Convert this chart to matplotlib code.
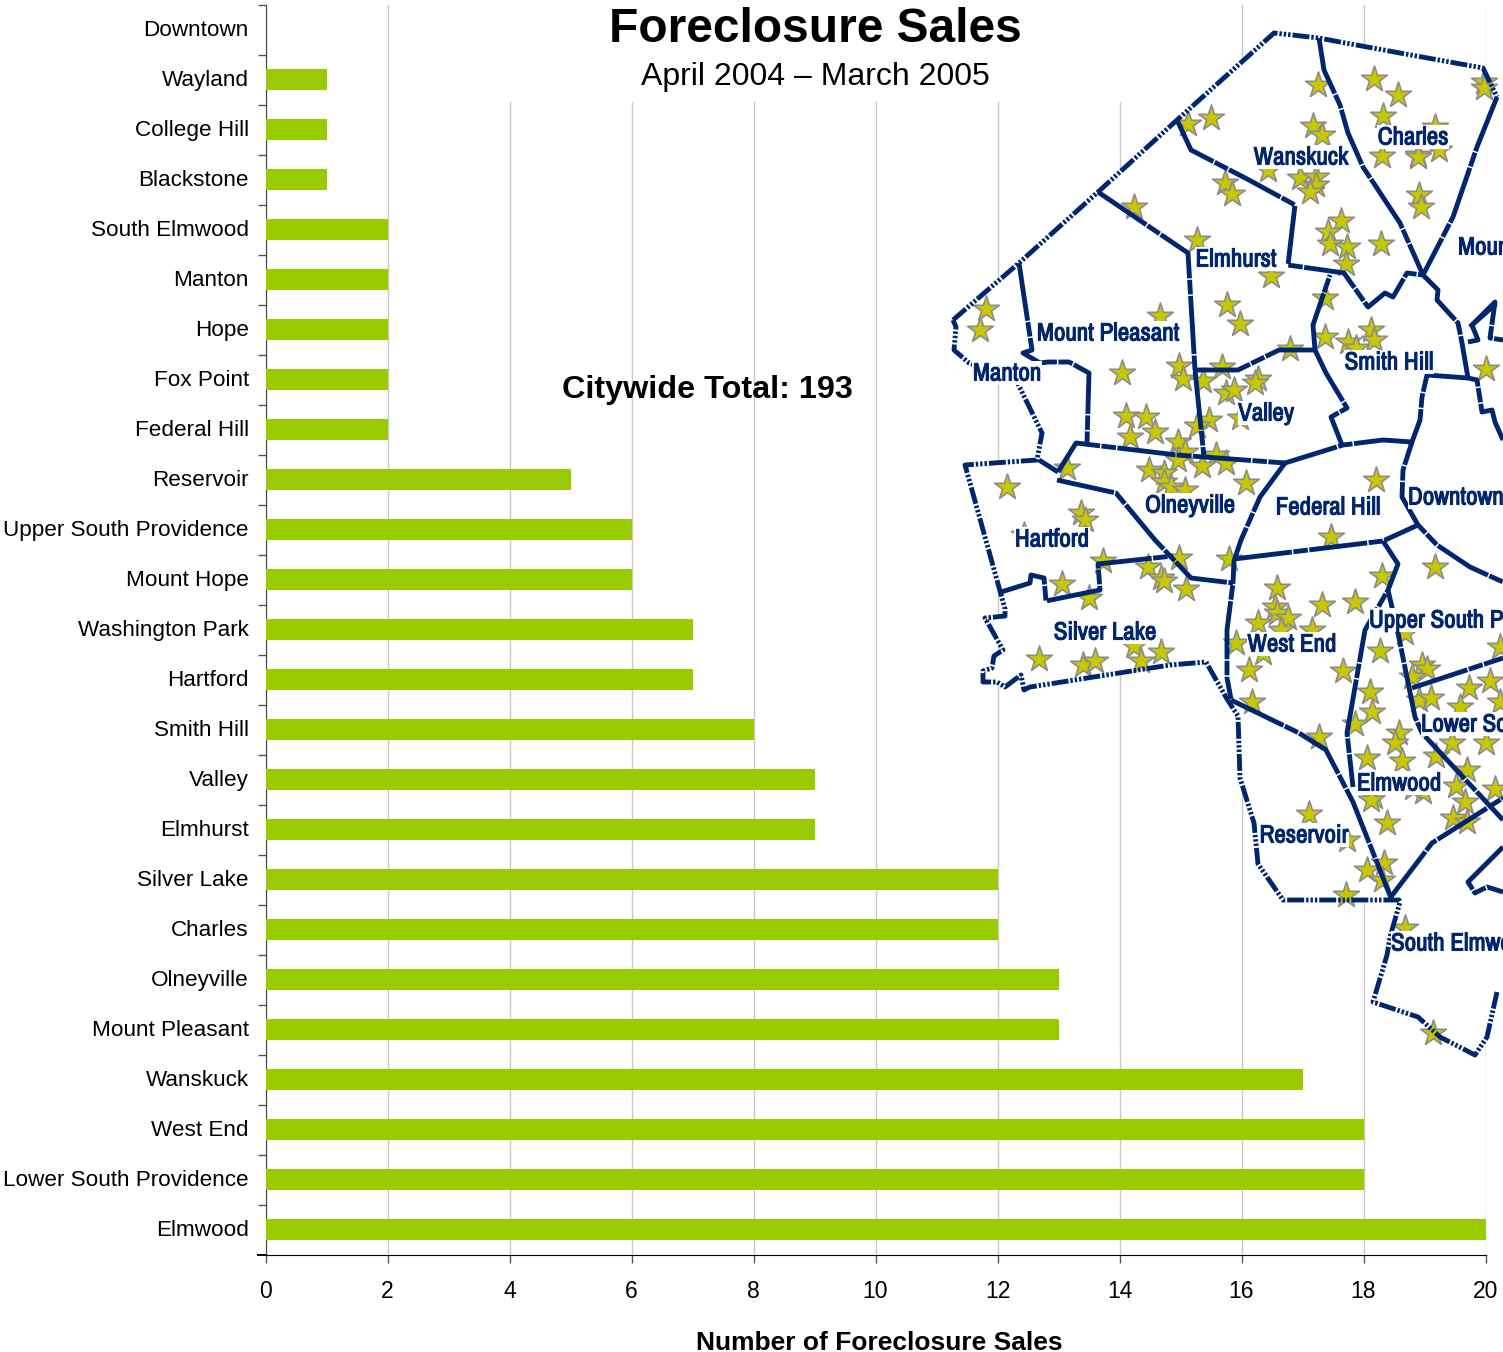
import matplotlib
matplotlib.use('Agg')
import matplotlib.pyplot as plt
import matplotlib.patheffects as pe
from matplotlib.patches import Polygon, Rectangle
from matplotlib.transforms import ScaledTranslation

# bar chart data
bairros = ['Downtown', 'Wayland', 'College Hill', 'Blackstone', 'South Elmwood', 'Manton', 'Hope',
           'Fox Point', 'Federal Hill', 'Reservoir', 'Upper South Providence', 'Mount Hope',
           'Washington Park', 'Hartford', 'Smith Hill', 'Valley', 'Elmhurst', 'Silver Lake',
           'Charles', 'Olneyville', 'Mount Pleasant', 'Wanskuck', 'West End',
           'Lower South Providence', 'Elmwood']
vendas = [0, 1, 1, 1, 2, 2, 2, 2, 2, 5, 6, 6, 7, 7, 8, 9, 9, 12, 12, 13, 13, 17, 18, 18, 20]
x_ticks = list(range(0, 21, 2))

# map outline, picture pixels
contorno = [(953, 320), (1019, 263), (1098, 192), (1177, 120), (1274, 33), (1319, 38), (1340, 42),
            (1400, 53), (1483, 68), (1497, 97), (1510, 97), (1510, 992), (1497, 992), (1487, 1037),
            (1475, 1055), (1440, 1037), (1418, 1017), (1373, 1002), (1387, 955), (1390, 937),
            (1400, 902), (1399, 900), (1283, 900), (1258, 864), (1254, 823), (1240, 778), (1238, 716),
            (1227, 699), (1206, 662), (1170, 665), (1030, 687), (1024, 690), (1021, 675), (1005, 687),
            (997, 682), (983, 682), (983, 671), (992, 668), (994, 656), (1003, 650), (985, 618),
            (1005, 616), (1005, 609), (965, 465), (1037, 460), (1042, 433), (1021, 390), (1017, 382),
            (969, 363), (954, 350), (956, 327), (953, 320)]

divisas = [
    [(1319, 38), (1324, 70), (1340, 105), (1348, 133), (1363, 167), (1400, 223), (1423, 275)],
    [(1497, 97), (1477, 147), (1453, 217), (1423, 275)],
    [(1423, 275), (1438, 290), (1437, 300), (1458, 323), (1462, 343), (1468, 378), (1477, 380),
     (1482, 412), (1492, 410), (1495, 422), (1503, 440)],
    [(1470, 327), (1495, 302), (1490, 338), (1503, 340)],
    [(1468, 342), (1478, 340), (1472, 325), (1497, 303)],
    [(1468, 378), (1427, 375), (1422, 397), (1420, 420), (1412, 442), (1403, 470), (1402, 497),
     (1418, 525), (1437, 545), (1470, 567), (1503, 582)],
    [(1412, 442), (1383, 440), (1343, 445), (1285, 463)],
    [(1315, 350), (1326, 373), (1347, 408), (1331, 417), (1342, 445)],
    [(1315, 350), (1313, 325), (1330, 275)],
    [(1193, 370), (1238, 370), (1279, 350), (1315, 350)],
    [(1177, 120), (1191, 150), (1249, 180), (1295, 205), (1288, 265), (1344, 273), (1368, 307),
     (1385, 293), (1393, 297), (1407, 273), (1423, 275)],
    [(1098, 192), (1188, 253), (1195, 370), (1204, 457)],
    [(1019, 263), (1032, 350), (1023, 353), (1040, 363), (1048, 362), (1069, 362), (1089, 373),
     (1087, 443)],
    [(1058, 472), (1076, 443), (1177, 455), (1285, 463)],
    [(1039, 460), (1058, 472)],
    [(1057, 480), (1116, 493), (1155, 540), (1191, 578), (1233, 583)],
    [(1285, 463), (1260, 497), (1241, 540), (1234, 561), (1233, 583), (1227, 630), (1227, 678),
     (1231, 699)],
    [(1234, 559), (1383, 541), (1418, 525)],
    [(1001, 592), (1030, 583), (1031, 575), (1044, 578), (1046, 601), (1100, 590), (1098, 564),
     (1173, 556)],
    [(1231, 700), (1299, 733), (1326, 750), (1353, 802), (1391, 898)],
    [(1383, 541), (1398, 564), (1388, 590), (1365, 630), (1347, 733), (1353, 787)],
    [(1388, 590), (1398, 633), (1415, 717), (1422, 733), (1503, 820)],
    [(1412, 688), (1503, 658)],
    [(1390, 898), (1432, 843), (1503, 798)],
    [(1503, 847), (1468, 882), (1475, 893), (1487, 887), (1503, 892)],
]

# foreclosure stars, picture pixels
estrelas = [(1318, 85), (1374, 79), (1398, 95), (1383, 116), (1435, 127), (1484, 82), (1484, 88),
            (1188, 124), (1211, 118), (1313, 126), (1322, 135), (1382, 156), (1418, 155), (1418, 157),
            (1439, 150), (1268, 170), (1300, 178), (1316, 177), (1316, 185), (1310, 192), (1225, 183),
            (1232, 194), (1419, 195), (1421, 207), (1134, 207), (1341, 221), (1328, 232), (1330, 244),
            (1347, 247), (1381, 244), (1346, 264), (1197, 240), (1271, 276), (1325, 298), (1227, 305),
            (1240, 324), (1160, 316), (986, 309), (980, 330), (1325, 337), (1348, 342), (1356, 348),
            (1371, 330), (1374, 340), (1290, 349), (1486, 369), (1122, 373), (1179, 366), (1183, 379),
            (1203, 381), (1222, 367), (1258, 379), (1255, 383), (1226, 393), (1234, 390), (1240, 418),
            (1209, 420), (1197, 426), (1126, 416), (1146, 417), (1155, 432), (1130, 437), (1178, 442),
            (1185, 452), (1216, 455), (1226, 463), (1202, 466), (1178, 460), (1067, 468), (1149, 470),
            (1164, 473), (1164, 482), (1171, 487), (1185, 490), (1246, 483), (1007, 487), (1081, 513),
            (1085, 520), (1376, 480), (1331, 537), (1024, 535), (1103, 561), (1148, 567), (1179, 558),
            (1229, 559), (1435, 567), (1382, 576), (1277, 588), (1062, 584), (1089, 598), (1161, 578),
            (1164, 581), (1186, 589), (1275, 607), (1277, 613), (1288, 618), (1322, 605), (1355, 602),
            (1258, 623), (1281, 630), (1312, 630), (1405, 633), (1236, 643), (1263, 653), (1380, 651),
            (1039, 659), (1083, 665), (1095, 661), (1134, 646), (1141, 661), (1161, 652), (1249, 670),
            (1343, 671), (1252, 702), (1370, 692), (1372, 712), (1355, 724), (1319, 737), (1399, 733),
            (1395, 743), (1367, 758), (1402, 761), (1374, 797), (1371, 800), (1309, 814), (1387, 823),
            (1347, 840), (1367, 870), (1384, 863), (1382, 880), (1346, 895), (1405, 928), (1433, 1033),
            (1422, 665), (1427, 669), (1412, 677), (1419, 700), (1431, 698), (1469, 688), (1460, 707),
            (1500, 647), (1490, 681), (1500, 702), (1452, 743), (1486, 743), (1436, 756), (1467, 770),
            (1456, 786), (1495, 789), (1423, 792), (1413, 788), (1465, 802), (1453, 818), (1467, 822)]

# (name, x, y, ha)
rotulos = [('Charles', 1413, 137, 'center'), ('Wanskuck', 1301, 157, 'center'),
           ('Mount Hope', 1458, 247, 'left'), ('Elmhurst', 1236, 259, 'center'),
           ('Mount Pleasant', 1108, 333, 'center'), ('Manton', 1007, 373, 'center'),
           ('Smith Hill', 1389, 362, 'center'), ('Valley', 1266, 413, 'center'),
           ('Olneyville', 1190, 505, 'center'), ('Federal Hill', 1328, 507, 'center'),
           ('Downtown', 1408, 497, 'left'), ('Hartford', 1052, 539, 'center'),
           ('Silver Lake', 1105, 632, 'center'), ('West End', 1292, 644, 'center'),
           ('Upper South Providence', 1369, 620, 'left'), ('Lower South Providence', 1421, 724, 'left'),
           ('Elmwood', 1399, 783, 'center'), ('Reservoir', 1304, 835, 'center'),
           ('South Elmwood', 1391, 943, 'left')]

W, H = 1503, 1352
AZUL = '#00266e'
plt.rcParams['font.family'] = ['Liberation Sans']

fig = plt.figure(figsize=(W / 100, H / 100), dpi=100)

# axes placed in pixels
ax = fig.add_axes([265.5 / W, 1 - 1254.5 / H, 1220 / W, 1250 / H])
pos = list(range(len(bairros)))
ax.barh(pos, vendas, height=0.42, color='#99cc00', zorder=3)
ax.set_xlim(0, 20)
ax.set_ylim(len(bairros) - 0.5, -0.5)
ax.set_xticks(x_ticks)
ax.set_yticks(pos)
ax.set_yticklabels(bairros)
ax.set_yticks([p - 0.5 for p in pos], minor=True)
ax.tick_params(axis='y', which='major', length=0, pad=12, labelsize=16.2)
ax.tick_params(axis='y', which='minor', length=5.5, width=1, color='#555555')
ax.tick_params(axis='x', length=5.5, width=1, color='#555555', labelsize=16.5, pad=13)
# labels sit a bit higher than the bar centres
sobe = ScaledTranslation(0, 1.5 / 100, fig.dpi_scale_trans)
for t in ax.get_yticklabels():
    t.set_transform(t.get_transform() + sobe)
ax.grid(axis='x', color='#c8c8c8', lw=1, zorder=0)
ax.set_axisbelow(True)
for s in ['top', 'right']:
    ax.spines[s].set_visible(False)
ax.spines['left'].set_color('#444444')
ax.spines['bottom'].set_color('black')
ax.spines['bottom'].set_bounds(0, 20)
ax.plot([-7.5 / 61, 0], [24.5, 24.5], color='black', lw=1.4, clip_on=False, zorder=4)

# overlay in picture pixels for the title box and the map
m = fig.add_axes([0, 0, 1, 1], facecolor='none')
m.set_xlim(0, W)
m.set_ylim(H, 0)
m.axis('off')

m.add_patch(Rectangle((395, 3), 810, 99, facecolor='white', edgecolor='none', zorder=1))
m.text(815, 30, 'Foreclosure Sales', ha='center', va='center', fontsize=34.5, fontweight='bold', zorder=2)
m.text(815, 77, 'April 2004 – March 2005', ha='center', va='center', fontsize=23, zorder=2)
m.text(707, 390, 'Citywide Total: 193', ha='center', va='center', fontsize=23.3, fontweight='bold', zorder=2)
m.text(879, 1343, 'Number of Foreclosure Sales', ha='center', va='center', fontsize=19, fontweight='bold', zorder=2)

m.add_patch(Polygon(contorno, closed=True, facecolor='white', edgecolor='none', zorder=2))

# stars under the lines
m.scatter([e[0] for e in estrelas], [e[1] for e in estrelas], marker='*', s=380, facecolor='#c8c800',
          edgecolor='#8c8c8c', linewidth=1.2, zorder=3)

# outer edge is broken up more than the inner ones
tra_ext = (0, (3.5, 0.4, 0.5, 0.4, 0.5, 0.4, 0.5, 0.4))
cx = [c[0] for c in contorno if c[0] < 1505]
cy = [c[1] for c in contorno if c[0] < 1505]
m.plot(cx[:10], cy[:10], color=AZUL, lw=3.5, ls=tra_ext, zorder=4)
m.plot(cx[10:], cy[10:], color=AZUL, lw=3.5, ls=tra_ext, zorder=4)
for d in divisas:
    m.plot([p[0] for p in d], [p[1] for p in d], color=AZUL, lw=3.5,
           ls=(0, (12, 0.3, 3, 0.3)), zorder=4)

# the narrow font has no real bold here, so thicken it with a thin stroke
for nome, x, y, ha in rotulos:
    m.text(x, y, nome, ha=ha, va='center', color=AZUL, fontsize=18, fontweight='bold',
           family=['Archivo Narrow', 'Roboto Condensed', 'Liberation Sans'],
           bbox=dict(facecolor='white', edgecolor='none', pad=0.3), zorder=5,
           path_effects=[pe.withStroke(linewidth=0.8, foreground=AZUL)])

fig.savefig('out.png', dpi=100)
